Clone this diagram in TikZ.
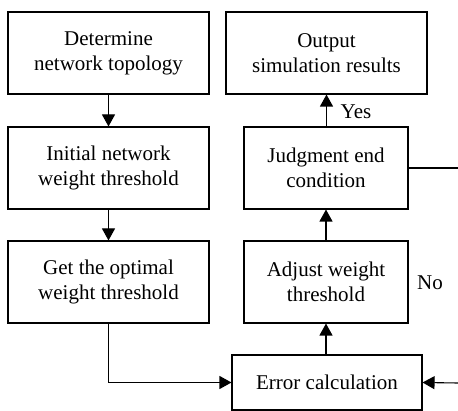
\documentclass[tikz,border=0pt]{standalone}
\usepackage{fontspec}
\setmainfont{Liberation Serif}
\usetikzlibrary{arrows.meta}
\begin{document}
\begin{tikzpicture}[x=1pt,y=-1pt,
  box/.style={draw, line width=1.1pt, rectangle, align=center, inner sep=0pt,
    font=\fontsize{21}{25}\selectfont},
  wide/.style={box, minimum width=201pt, minimum height=82pt},
  narrow/.style={box, minimum width=164pt, minimum height=82pt},
  flow/.style={line width=1.1pt, -{Triangle[length=12pt,width=13pt]}},
  lbl/.style={font=\fontsize{21}{25}\selectfont, inner sep=0pt}]
\useasboundingbox (0,0) rectangle (458,411);
\node[wide] (det) at (108.5,53) {Determine\\network topology};
\node[wide] (ini) at (108.5,168) {Initial network\\weight threshold};
\node[wide] (get) at (108.5,282) {Get the optimal\\weight threshold};
\node[wide] (out) at (326.5,53) {Output\\simulation results};
\node[narrow] (jud) at (326,168) {Judgment end\\condition};
\node[narrow] (adj) at (326,282) {Adjust weight\\threshold};
\node[box, minimum width=190pt, minimum height=55pt] (err) at (327,382.5) {Error calculation};
\coordinate (jr) at (458,168);
\coordinate (er) at (458,383);
\draw[flow] (det) -- (ini);
\draw[flow] (ini) -- (get);
\draw[flow] (get.south) |- (err.west);
\draw[flow] (err.north -| adj) -- (adj);
\draw[flow] (adj) -- (jud);
\draw[flow] (jud.north -| out) -- (out);
\draw[line width=1.1pt] (jud.east) -- (jr);
\draw[flow] (er) -- (err.east);
\node[lbl] (yes) at (356,112) {Yes};
\node[lbl] (no) at (430,283) {No};
\end{tikzpicture}
\end{document}
